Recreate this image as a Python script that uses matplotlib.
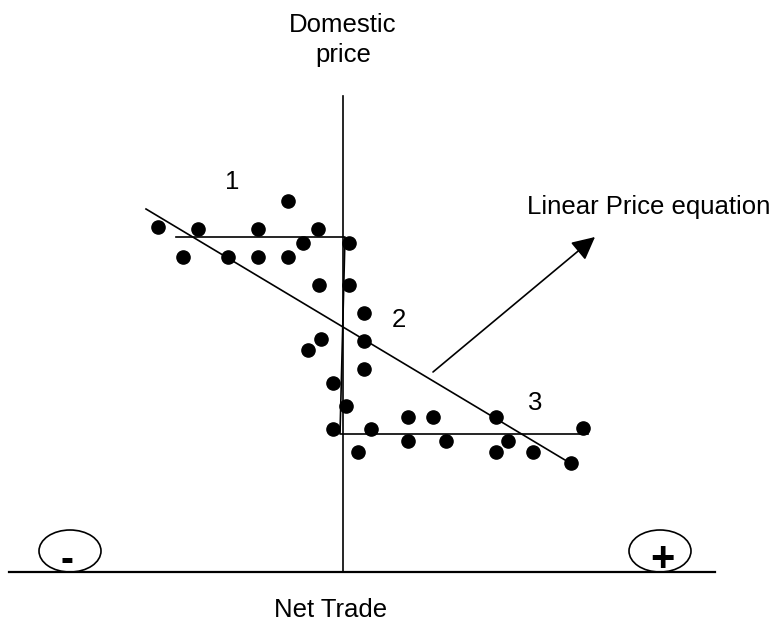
import matplotlib
matplotlib.use("Agg")
import matplotlib.pyplot as plt
from matplotlib.patches import Ellipse, FancyArrowPatch

plt.rcParams['font.family'] = ['Liberation Sans', 'DejaVu Sans']

# Data: net trade (x) vs domestic price (y), origin at axis crossing
net_trade = [-185, -145, -85, -55, -25, -40, 6, -160, -115, -85, -55, -24, 6,
             21, -22, -35, 21, 21, -10, 3, -10, 28, 15, 65, 90, 65, 103, 153,
             165, 153, 190, 228, 240]
price = [345, 343, 343, 371, 343, 329, 329, 315, 315, 315, 315, 287, 287,
         259, 233, 222, 231, 203, 189, 166, 143, 143, 120, 155, 155, 131, 131,
         155, 131, 120, 120, 109, 144]

# Step (regime) function
step_x = [-167, 2, -3, 245]
step_y = [335, 335, 138, 138]

# Linear price equation
lin_x = [-197, 232]
lin_y = [363, 106]

fig = plt.figure(figsize=(7.8, 6.24), dpi=100)
ax = fig.add_axes([0, 0, 1, 1])
ax.set_xlim(-343, 437)
ax.set_ylim(-52, 572)
ax.axis('off')

# axes
ax.plot([0, 0], [0, 476], color='black', lw=1.2)
ax.plot([-334, 372], [0, 0], color='black', lw=1.6)

ax.plot(step_x, step_y, color='black', lw=1.2)
ax.plot(lin_x, lin_y, color='black', lw=1.2)
ax.plot(net_trade, price, 'o', color='black', markersize=9.5, zorder=5)

arr = FancyArrowPatch((90, 200), (252, 335), arrowstyle='-|>,head_length=14,head_width=7',
                      color='black', lw=1.2, mutation_scale=1, shrinkA=0, shrinkB=0)
ax.add_patch(arr)

fs = 18.5
ax.text(0, 547, 'Domestic', ha='center', va='center', fontsize=fs)
ax.text(0, 517, 'price', ha='center', va='center', fontsize=fs)
ax.text(-12, -38, 'Net Trade', ha='center', va='center', fontsize=fs)
ax.text(184, 365, 'Linear Price equation', ha='left', va='center', fontsize=fs)
ax.text(-111, 390, '1', ha='center', va='center', fontsize=fs)
ax.text(56, 252, '2', ha='center', va='center', fontsize=fs)
ax.text(192, 169, '3', ha='center', va='center', fontsize=fs)

ax.add_patch(Ellipse((-273, 21), 62, 42, fill=False, edgecolor='black', lw=1.2))
ax.add_patch(Ellipse((317, 21), 62, 42, fill=False, edgecolor='black', lw=1.2))
ax.text(-276, 11, '-', ha='center', va='center', fontsize=28, fontweight='bold')
ax.text(319, 12, '+', ha='center', va='center', fontsize=30, fontweight='bold')

fig.savefig('out.png', dpi=100)
